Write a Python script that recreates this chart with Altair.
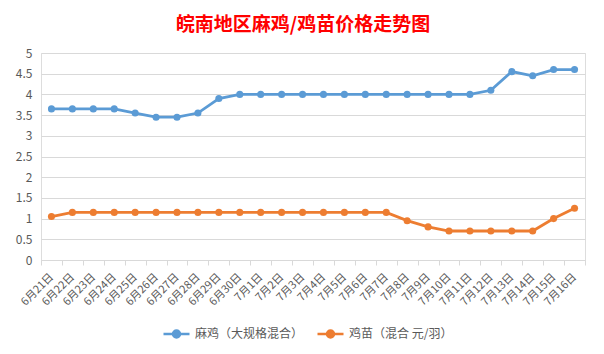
import altair as alt
import pandas as pd

dates = ["6月21日", "6月22日", "6月23日", "6月24日", "6月25日", "6月26日", "6月27日",
         "6月28日", "6月29日", "6月30日", "7月1日", "7月2日", "7月3日", "7月4日",
         "7月5日", "7月6日", "7月7日", "7月8日", "7月9日", "7月10日", "7月11日",
         "7月12日", "7月13日", "7月14日", "7月15日", "7月16日"]
maji = [3.65, 3.65, 3.65, 3.65, 3.55, 3.45, 3.45, 3.55, 3.9, 4.0, 4.0, 4.0, 4.0,
        4.0, 4.0, 4.0, 4.0, 4.0, 4.0, 4.0, 4.0, 4.1, 4.55, 4.45, 4.6, 4.6]
jimiao = [1.05, 1.15, 1.15, 1.15, 1.15, 1.15, 1.15, 1.15, 1.15, 1.15, 1.15, 1.15, 1.15,
          1.15, 1.15, 1.15, 1.15, 0.95, 0.8, 0.7, 0.7, 0.7, 0.7, 0.7, 1.0, 1.25]
series = ["麻鸡（大规格混合）", "鸡苗（混合 元/羽）"]
colors = ["#5B9BD5", "#ED7D31"]
y_ticks = [0, 0.5, 1, 1.5, 2, 2.5, 3, 3.5, 4, 4.5, 5]

rows = []
for d, a, b in zip(dates, maji, jimiao):
    rows.append({"date": d, "series": series[0], "value": a})
    rows.append({"date": d, "series": series[1], "value": b})
df = pd.DataFrame(rows)

FONT = "Noto Sans CJK SC"

x = alt.X("date:N", sort=dates, title=None,
          scale=alt.Scale(type="band", paddingInner=0, paddingOuter=0),
          axis=alt.Axis(labelAngle=-45, labelAlign="right", labelBaseline="middle",
                        labelFontSize=11, labelColor="#595959", labelFont=FONT,
                        tickBand="extent", tickSize=5, tickColor="#d9d9d9",
                        domainColor="#d9d9d9", grid=False, labelPadding=10))
y = alt.Y("value:Q", title=None,
          scale=alt.Scale(domain=[0, 5], nice=False),
          axis=alt.Axis(values=y_ticks, format="~g",
                        labelFontSize=12, labelColor="#595959", labelFont=FONT,
                        domain=False, ticks=False, gridColor="#d9d9d9",
                        labelPadding=9))
color = alt.Color("series:N", sort=series,
                  scale=alt.Scale(domain=series, range=colors),
                  legend=alt.Legend(orient="none", direction="horizontal",
                                    legendX=121, legendY=266, title=None,
                                    labelFontSize=12, labelColor="#595959",
                                    labelFont=FONT,
                                    symbolType="M-1,0L1,0M-0.27,0A0.27,0.27,0,1,1,0.27,0A0.27,0.27,0,1,1,-0.27,0Z",
                                    symbolSize=676, symbolStrokeWidth=2.5,
                                    columnPadding=8, labelOffset=4))

base = alt.Chart(df).encode(x=x, y=y, color=color)
line = base.mark_line(strokeWidth=2.8)
pts = base.mark_circle(size=50, opacity=1)

chart = alt.layer(line, pts).properties(
    width=544, height=207,
    title=alt.Title("皖南地区麻鸡/鸡苗价格走势图", color="#FF0000", fontSize=19,
                    font=FONT, fontWeight="bold", anchor="middle", offset=12,
                    dx=-10),
    autosize=alt.AutoSizeParams(type="none"),
    padding={"left": 41, "top": 53, "right": 19, "bottom": 94},
).configure_view(stroke=None).configure(background="white")

chart.save("out.html", embed_options={"renderer": "svg", "actions": False})
